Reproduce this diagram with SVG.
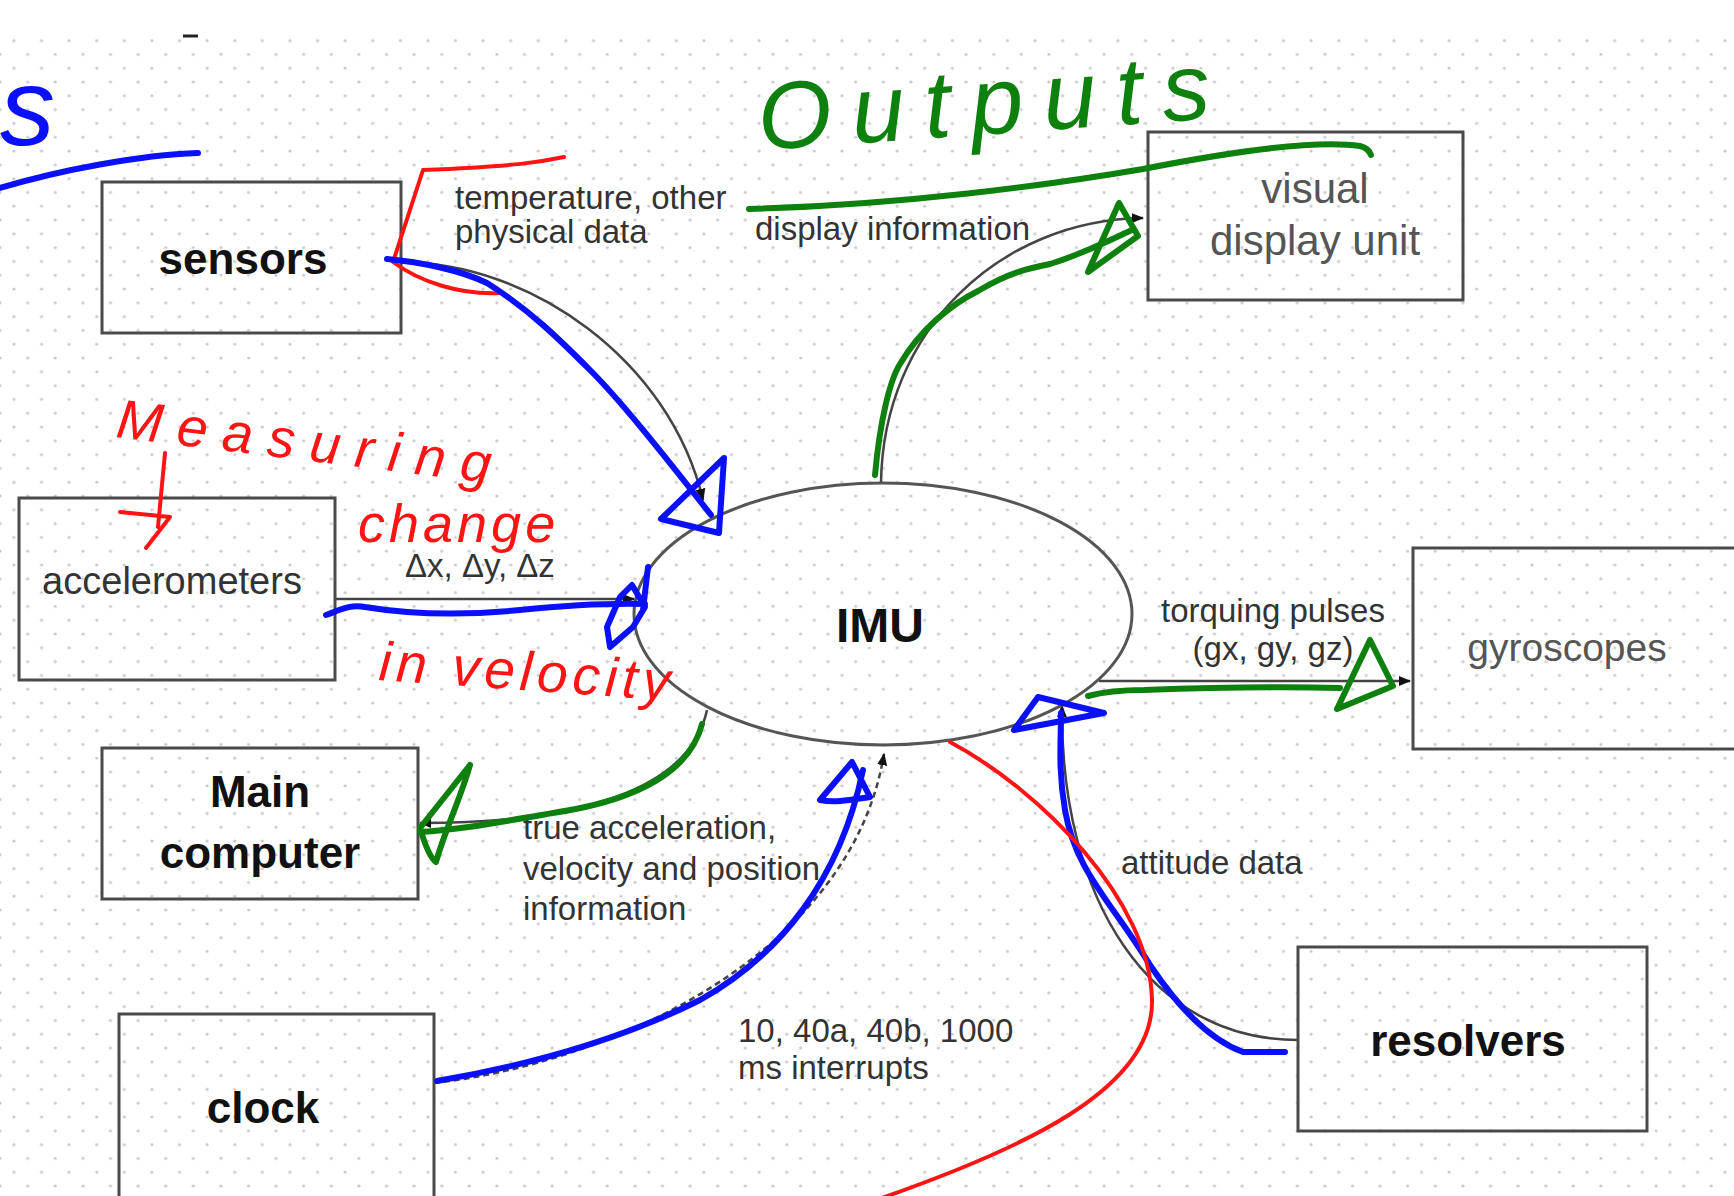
<svg xmlns="http://www.w3.org/2000/svg" width="1734" height="1196" viewBox="0 0 1734 1196">
<defs>
<pattern id="dots" patternUnits="userSpaceOnUse" x="7" y="6.1" width="27.6" height="27.6">
<circle cx="6.9" cy="6.9" r="1.6" fill="#c9c9c9"/>
<circle cx="20.7" cy="20.7" r="1.6" fill="#c9c9c9"/>
</pattern>
<marker id="arr" viewBox="0 0 10 10" refX="9" refY="5" markerWidth="5" markerHeight="5" orient="auto" markerUnits="strokeWidth">
<path d="M0,1 L10,5 L0,9 Z" fill="#111"/>
</marker>
<style>
.box{fill:none;stroke:#4a4a4a;stroke-width:3}
.ell{fill:none;stroke:#555;stroke-width:3}
.b{font-family:"Liberation Sans",Arial,sans-serif;font-weight:bold;font-size:44px;fill:#111;text-anchor:middle}
.g{font-family:"Liberation Sans",Arial,sans-serif;font-size:40px;fill:#555;text-anchor:middle}
.lbl{font-family:"Liberation Sans",Arial,sans-serif;font-size:33px;fill:#333}
.con{fill:none;stroke:#444;stroke-width:2.5}
.hw{font-family:"Liberation Sans",Arial,sans-serif;font-style:italic}
.blue{fill:none;stroke:#0a10ff;stroke-width:6;stroke-linecap:round;stroke-linejoin:round}
.green{fill:none;stroke:#0d800d;stroke-width:6;stroke-linecap:round;stroke-linejoin:round}
.red{fill:none;stroke:#ff1414;stroke-width:4;stroke-linecap:round;stroke-linejoin:round}
</style>
</defs>
<rect width="1734" height="1196" fill="#fff"/>
<rect x="0" y="33" width="1734" height="1163" fill="url(#dots)"/>
<path d="M183,36 L198,36" stroke="#222" stroke-width="3"/>

<g id="connectors">
<path class="con" d="M400,262 C530,262 670,360 703,500" marker-end="url(#arr)"/>
<path class="con" d="M335,599 L634,599" marker-end="url(#arr)"/>
<path class="con" d="M707,710 C690,790 580,823 420,823" marker-end="url(#arr)"/>
<path class="con" d="M434,1083 C600,1065 850,960 884,754" stroke-dasharray="6,4" marker-end="url(#arr)"/>
<path class="con" d="M1298,1040 C1150,1040 1060,900 1062,706" marker-end="url(#arr)"/>
<path class="con" d="M1099,681 L1410,681" marker-end="url(#arr)"/>
<path class="con" d="M881,483 C883,330 1000,220 1143,218" marker-end="url(#arr)"/>
</g>

<g id="sensors">
<rect class="box" x="102" y="182" width="299" height="151"/>
<text class="b" x="243" y="274">sensors</text>
</g>
<g id="accelerometers">
<rect class="box" x="19" y="498" width="316" height="182"/>
<text class="lbl" x="172" y="594" text-anchor="middle" style="font-size:38px">accelerometers</text>
</g>
<g id="main-computer">
<rect class="box" x="102" y="748" width="316" height="151"/>
<text class="b" x="260" y="807">Main</text>
<text class="b" x="260" y="868">computer</text>
</g>
<g id="clock">
<rect class="box" x="119" y="1014" width="315" height="190"/>
<text class="b" x="263" y="1123">clock</text>
</g>
<g id="visual-display-unit">
<rect class="box" x="1148" y="132" width="315" height="168"/>
<text class="g" x="1315" y="203" style="font-size:42px">visual</text>
<text class="g" x="1315" y="255" style="font-size:42px">display unit</text>
</g>
<g id="gyroscopes">
<rect class="box" x="1413" y="548" width="340" height="201"/>
<text class="g" x="1567" y="661" style="font-size:39px">gyroscopes</text>
</g>
<g id="resolvers">
<rect class="box" x="1298" y="947" width="349" height="184"/>
<text class="b" x="1468" y="1056">resolvers</text>
</g>
<g id="imu">
<ellipse class="ell" cx="883" cy="614" rx="249" ry="131"/>
<text class="b" x="880" y="642" style="font-size:48px">IMU</text>
</g>

<g id="labels">
<text class="lbl" x="455" y="209">temperature, other</text>
<text class="lbl" x="455" y="243">physical data</text>
<text class="lbl" x="755" y="240">display information</text>
<text class="lbl" x="405" y="577">Δx, Δy, Δz</text>
<text class="lbl" x="1273" y="622" text-anchor="middle">torquing pulses</text>
<text class="lbl" x="1273" y="660" text-anchor="middle">(gx, gy, gz)</text>
<text class="lbl" x="523" y="839">true acceleration,</text>
<text class="lbl" x="523" y="880">velocity and position</text>
<text class="lbl" x="523" y="920">information</text>
<text class="lbl" x="738" y="1042">10, 40a, 40b, 1000</text>
<text class="lbl" x="738" y="1079">ms interrupts</text>
<text class="lbl" x="1121" y="874">attitude data</text>
</g>

<g id="annotations">
<text class="hw" x="0" y="145" fill="#0a10ff" font-size="110">s</text>
<path class="blue" d="M0,188 C60,170 140,155 198,153"/>
<text class="hw" x="760" y="150" fill="#0d800d" font-size="95" letter-spacing="20" transform="rotate(-4 760 150)">Outputs</text>
<path class="green" d="M749,209 C900,205 1050,185 1143,169 C1240,150 1320,140 1360,146 C1368,148 1370,152 1371,155"/>
<text class="hw" x="115" y="437" fill="#ff1414" font-size="55" letter-spacing="15" transform="rotate(7 115 437)">Measuring</text>
<path class="red" d="M165,453 L158,527 M120,512 L170,517 L146,548"/>
<text class="hw" x="358" y="542" fill="#ff1414" font-size="54" letter-spacing="4">change</text>
<text class="hw" x="378" y="680" fill="#ff1414" font-size="55" letter-spacing="5" transform="rotate(4 378 680)">in velocity</text>

<path class="red" d="M564,157 C540,162 520,166 423,170 L393,262 C420,282 460,295 500,293"/>
<path class="blue" d="M387,259 C420,262 460,270 487,283 C530,310 560,340 590,370 C620,400 660,450 711,515"/>
<path class="blue" d="M724,458 L661,519 L719,533 Z"/>

<path class="blue" d="M326,615 C340,610 350,604 365,607 C420,616 470,615 520,610 C560,606 600,603 645,604"/>
<path class="blue" d="M648,567 L643,610 M620,597 L632,585 L645,607 L633,627 L610,647 L607,627 Z"/>

<path class="green" d="M702,724 C690,770 640,800 553,813 C500,822 460,830 420,832"/>
<path class="green" d="M470,765 L420,828 C425,845 430,858 436,862 C445,830 460,800 470,765"/>

<path class="blue" d="M437,1081 C530,1065 620,1040 700,1000 C780,955 840,880 863,770"/>
<path class="blue" d="M852,762 L820,800 C835,803 850,800 870,797 Z"/>

<path class="green" d="M875,475 C880,420 890,380 900,364 C920,330 950,305 978,291 C1010,272 1030,268 1050,264 C1080,255 1110,240 1132,230"/>
<path class="green" d="M1119,203 L1088,272 L1138,236 Z"/>

<path class="green" d="M1088,696 C1110,690 1130,690 1144,690 C1200,688 1260,686 1340,688"/>
<path class="green" d="M1370,640 L1337,709 L1393,686 Z"/>

<path class="blue" d="M1285,1052 L1243,1052 C1210,1040 1180,1010 1150,965 C1110,900 1075,870 1065,810 C1058,770 1061,740 1061,713"/>
<path class="blue" d="M1038,697 L1014,730 L1104,713 Z"/>

<path class="red" d="M950,742 C1040,790 1150,900 1152,1000 C1154,1090 1020,1150 876,1200"/>
</g>
</svg>
